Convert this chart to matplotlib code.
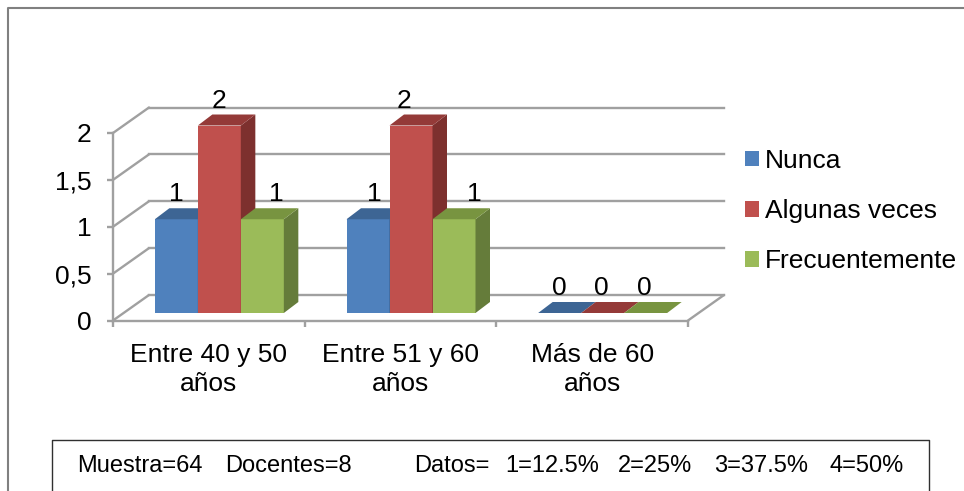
#!/usr/bin/env python3
"""
Docentes por edad - fake 3D column chart
"""

import matplotlib
matplotlib.use('Agg')
import matplotlib.pyplot as plt
from matplotlib.patches import Polygon, Rectangle
from matplotlib.transforms import Affine2D

plt.rcParams['font.family'] = ['Liberation Sans', 'DejaVu Sans']

categories = ['Entre 40 y 50\naños', 'Entre 51 y 60\naños', 'Más de 60\naños']
nunca = [1, 1, 0]
algunas_veces = [2, 2, 0]
frecuentemente = [1, 1, 0]
y_ticks = [0, 0.5, 1, 1.5, 2]
y_tick_labels = ['0', '0,5', '1', '1,5', '2']
note_parts = ['Muestra=64', 'Docentes=8', 'Datos=', '1=12.5%', '2=25%', '3=37.5%', '4=50%']

GRID = '#A0A0A0'
GRID_LW = 1.7
W, H = 964, 491

fig = plt.figure(figsize=(W / 100, H / 100), dpi=100, facecolor='white')

# page frame + note box, drawn in pixel coords
page = fig.add_axes([0, 0, 1, 1])
page.set_xlim(0, W)
page.set_ylim(H, 0)
page.axis('off')
page.plot([8, 8, W], [H, 7.5, 7.5], color='#808080', lw=1.5)
page.plot([52, 52, 929, 929], [H, 439.5, 439.5, H], color='#303030', lw=1.0)
note_x = [77, 225, 414, 505, 618, 714, 829]
for part, x in zip(note_parts, note_x):
    page.text(x, 472, part, fontsize=17, color='black', va='baseline')

# front plane of the chart box
ax = fig.add_axes([113 / W, (H - 320.5) / H, 575 / W, 187.5 / H])
ax.patch.set_alpha(0)
ax.set_xlim(0, 3)
ax.set_ylim(0, 2)
for side in ['top', 'right']:
    ax.spines[side].set_visible(False)
for side in ['left', 'bottom']:
    ax.spines[side].set_color(GRID)
    ax.spines[side].set_linewidth(GRID_LW)

ax.set_yticks(y_ticks, y_tick_labels)
ax.set_xticks([0, 1, 2, 3], ['', '', '', ''])
ax.set_xticks([0.5, 1.5, 2.5], categories, minor=True)
ax.tick_params(axis='both', which='major', color=GRID, width=GRID_LW, length=4.5)
ax.tick_params(axis='y', labelsize=19, pad=11)
ax.tick_params(axis='x', which='minor', length=0, labelsize=19, pad=16)
for lab in ax.get_xticklabels(minor=True):
    lab.set_linespacing(1.3)


def shifted(dx, dy):
    return ax.transData + Affine2D().translate(dx, dy)


# back wall gridlines and the slanted lines back to the front axis
back = shifted(36, 25.5)
for v in y_ticks:
    ax.plot([0, 3], [v, v], color=GRID, lw=GRID_LW, transform=back, clip_on=False, zorder=1)
    ax.annotate('', xy=(0, v), xycoords=back, xytext=(0, v), textcoords=ax.transData,
                arrowprops=dict(arrowstyle='-', color=GRID, lw=GRID_LW, shrinkA=0, shrinkB=0), zorder=1)
ax.annotate('', xy=(3, 0), xycoords=back, xytext=(3, 0), textcoords=ax.transData,
            arrowprops=dict(arrowstyle='-', color=GRID, lw=GRID_LW, shrinkA=0, shrinkB=0), zorder=1)

# series: values, front, top, side
series = [
    ('Nunca', nunca, '#4F81BD', '#3D6594', '#385D8A'),
    ('Algunas veces', algunas_veces, '#C0504D', '#943A38', '#7D302E'),
    ('Frecuentemente', frecuentemente, '#9BBB59', '#789440', '#657C3A'),
]
bar_w = 43 / (575 / 3)
front = shifted(10.5, 7.5)
# depth of a bar in data units
depth_x = 14.5 / (575 / 3)
depth_y = 11 / (187.5 / 2)
label_dx = [[0, 7, 0], [0, -7, -1], [14, 21, -1]]

handles = []
for s, (name, values, c_front, c_top, c_side) in enumerate(series):
    for i, v in enumerate(values):
        left = i + 0.5 + (s - 1.5) * bar_w
        right = left + bar_w
        z = 3 + s
        if v > 0:
            ax.add_patch(Rectangle((left, 0), bar_w, v, fc=c_front, ec='none',
                                   transform=front, clip_on=False, zorder=z))
            ax.add_patch(Polygon([(right, 0), (right + depth_x, depth_y),
                                  (right + depth_x, v + depth_y), (right, v)],
                                 fc=c_side, ec='none', transform=front, clip_on=False, zorder=z))
        ax.add_patch(Polygon([(left, v), (right, v), (right + depth_x, v + depth_y),
                              (left + depth_x, v + depth_y)],
                             fc=c_top, ec='none', transform=front, clip_on=False, zorder=z))
        ax.text(left + bar_w / 2, v, str(v), fontsize=19, ha='center', va='baseline', zorder=8,
                transform=shifted(10 + label_dx[s][i], 25.5), clip_on=False)
    handles.append(Rectangle((0, 0), 1, 1, fc=c_front, ec='none', label=name))

fig.legend(handles=handles, loc='upper left', bbox_to_anchor=(745 / W, 1 - 149 / H),
           bbox_transform=fig.transFigure, frameon=False, fontsize=19, borderpad=0,
           borderaxespad=0, handlelength=0.53, handleheight=0.53, handletextpad=0.23,
           labelspacing=0.99)

fig.savefig('out.png', dpi=100, facecolor='white')
